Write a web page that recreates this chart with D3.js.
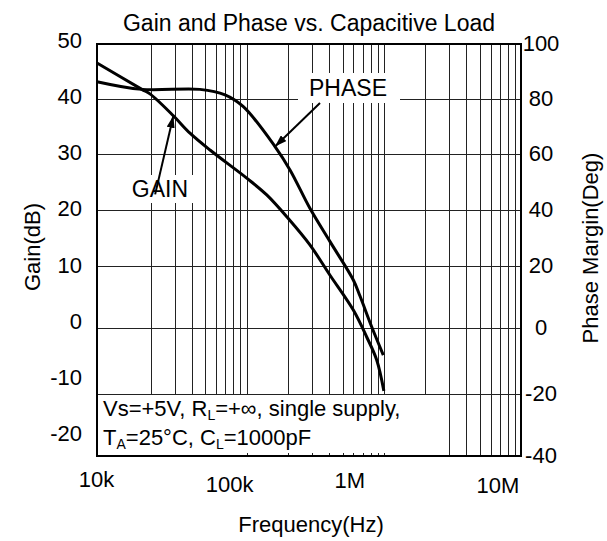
<!DOCTYPE html>
<html>
<head>
<meta charset="utf-8">
<script src="https://cdn.jsdelivr.net/npm/d3@7"></script>
<style>
    body { margin: 0; background: #fff; }
    text { font-family: "Liberation Sans", Arial, sans-serif; fill: #000; }
</style>
</head>
<body>
<script>
// gain curve (left axis, dB)
var gainFreq = [8.1e3, 17.2e3, 19.7e3, 29.2e3, 38.6e3, 54.0e3, 100e3, 140e3, 201e3, 289e3, 405e3, 599e3, 750e3, 887e3, 1.0e6];
var gainDb = [45.9, 41.2, 40.4, 36.5, 33.4, 30.4, 25.4, 22.4, 18.2, 13.5, 8.1, 1.9, -2.9, -7.0, -12.5];

// phase margin curve (right axis, deg)
var phaseFreq = [8.1e3, 17.2e3, 45.6e3, 69.5e3, 94.5e3, 160.9e3, 206.9e3, 289e3, 405e3, 599e3, 670e3, 815e3, 991e3];
var phaseDeg = [86.3, 83.5, 83.5, 81.5, 77.2, 62.7, 54.3, 40.6, 28.7, 15.5, 10.3, 0.4, -8.2];

var gainTicks = [50, 40, 30, 20, 10, 0, -10, -20];
var phaseTicks = [100, 80, 60, 40, 20, 0, -20, -40];
var freqTicks = [1e4, 1e5, 1e6, 1e7];
var freqTickLabels = ["10k", "100k", "1M", "10M"];

var plotLeft = 97, plotRight = 521, plotTop = 44, plotBottom = 456;

var svg = d3.select("body").append("svg")
    .attr("width", 607)
    .attr("height", 541);

var x = d3.scaleLog().domain([8.1e3, 1e7]).range([plotLeft, plotRight]);
var yGain = d3.scaleLinear().domain([-20, 50]).range([433, 40]);
// the printed grid is not evenly spaced, so phase is piecewise
var yPhase = d3.scaleLinear().domain(phaseTicks).range([44, 99, 154, 210, 266, 328, 394, 456]);

function px(v) { return Math.round(v) + 0.5; }

// grid
var gridX = x.ticks().filter(function (f) { return f >= 2e4 && f < 9.9e6; });
var grid = svg.append("g").attr("stroke", "#222").attr("stroke-width", 1);
grid.selectAll("line.v")
    .data(gridX)
    .enter().append("line")
    .attr("class", "v")
    .attr("x1", function (d) { return px(x(d)); })
    .attr("x2", function (d) { return px(x(d)); })
    .attr("y1", plotTop)
    .attr("y2", plotBottom);

// white boxes behind the labels
svg.append("rect").attr("x", plotLeft + 1).attr("y", yPhase(-20) + 1)
    .attr("width", 433 - plotLeft).attr("height", plotBottom - yPhase(-20) - 1).attr("fill", "#fff");
svg.append("rect").attr("x", 128).attr("y", 175).attr("width", 77).attr("height", 28).attr("fill", "#fff");

var hGrid = svg.append("g").attr("stroke", "#222").attr("stroke-width", 1);
hGrid.selectAll("line")
    .data(phaseTicks.slice(1, -1))
    .enter().append("line")
    .attr("x1", plotLeft)
    .attr("x2", plotRight)
    .attr("y1", function (d) { return px(yPhase(d)); })
    .attr("y2", function (d) { return px(yPhase(d)); });

svg.append("rect").attr("x", 298).attr("y", 73).attr("width", 102).attr("height", 30).attr("fill", "#fff");

// little stubs left along the bottom inside the condition box
hGrid.selectAll("line.stub")
    .data(gridX.filter(function (f) { return f >= 1e5 && f <= 1e6; }))
    .enter().append("line")
    .attr("class", "stub")
    .attr("x1", function (d) { return px(x(d)); })
    .attr("x2", function (d) { return px(x(d)); })
    .attr("y1", plotBottom - 3)
    .attr("y2", plotBottom);

// curves
var gainLine = d3.line()
    .x(function (d, i) { return x(gainFreq[i]); })
    .y(function (d) { return yGain(d); })
    .curve(d3.curveCatmullRom.alpha(0.5));
var phaseLine = d3.line()
    .x(function (d, i) { return x(phaseFreq[i]); })
    .y(function (d) { return yPhase(d); })
    .curve(d3.curveCatmullRom.alpha(0.5));

svg.append("path").attr("d", gainLine(gainDb))
    .attr("fill", "none").attr("stroke", "#000").attr("stroke-width", 3);
svg.append("path").attr("d", phaseLine(phaseDeg))
    .attr("fill", "none").attr("stroke", "#000").attr("stroke-width", 3);

// frame
svg.append("rect")
    .attr("x", plotLeft).attr("y", plotTop)
    .attr("width", plotRight - plotLeft).attr("height", plotBottom - plotTop)
    .attr("fill", "none").attr("stroke", "#000").attr("stroke-width", 2);

// tick labels
svg.append("g").selectAll("text")
    .data(gainTicks)
    .enter().append("text")
    .attr("x", 82)
    .attr("y", function (d) { return yGain(d) + 8; })
    .attr("text-anchor", "end")
    .attr("font-size", 22)
    .text(function (d) { return d; });

svg.append("g").selectAll("text")
    .data(phaseTicks)
    .enter().append("text")
    .attr("x", 541)
    .attr("y", function (d) { return yPhase(d) + 7; })
    .attr("text-anchor", "middle")
    .attr("font-size", 22)
    .text(function (d) { return d; });

var freqDx = [-13, -17, -34, -23];
var freqY = [487, 492, 488, 493];
svg.append("g").selectAll("text")
    .data(freqTicks)
    .enter().append("text")
    .attr("x", function (d, i) { return x(d) + freqDx[i]; })
    .attr("y", function (d, i) { return freqY[i]; })
    .attr("text-anchor", "middle")
    .attr("font-size", 22)
    .text(function (d, i) { return freqTickLabels[i]; });

// titles
svg.append("text").attr("x", 309).attr("y", 31).attr("text-anchor", "middle")
    .attr("font-size", 23).text("Gain and Phase vs. Capacitive Load");
svg.append("text").attr("x", 311).attr("y", 532).attr("text-anchor", "middle")
    .attr("font-size", 22).text("Frequency(Hz)");
svg.append("text").attr("transform", "translate(40,247) rotate(-90)").attr("text-anchor", "middle")
    .attr("font-size", 22).text("Gain(dB)");
svg.append("text").attr("transform", "translate(598,248) rotate(-90)").attr("text-anchor", "middle")
    .attr("font-size", 22).text("Phase Margin(Deg)");

// annotations
svg.append("defs").append("marker")
    .attr("id", "head")
    .attr("viewBox", "0 0 12 8")
    .attr("refX", 12).attr("refY", 4)
    .attr("markerWidth", 12).attr("markerHeight", 8)
    .attr("markerUnits", "userSpaceOnUse")
    .attr("orient", "auto")
    .append("path").attr("d", "M0,0L12,4L0,8Z").attr("fill", "#000");

svg.append("line")
    .attr("x1", x(21.5e3)).attr("y1", yGain(22.5))
    .attr("x2", x(gainFreq[3])).attr("y2", yGain(gainDb[3]))
    .attr("stroke", "#000").attr("stroke-width", 2).attr("marker-end", "url(#head)");
svg.append("text").attr("x", x(23.3e3)).attr("y", 197).attr("text-anchor", "middle")
    .attr("font-size", 23).text("GAIN");

svg.append("line")
    .attr("x1", 320).attr("y1", 103)
    .attr("x2", x(phaseFreq[5])).attr("y2", yPhase(phaseDeg[5]))
    .attr("stroke", "#000").attr("stroke-width", 2).attr("marker-end", "url(#head)");
svg.append("text").attr("x", 348).attr("y", 96).attr("text-anchor", "middle")
    .attr("font-size", 23).text("PHASE");

// test conditions
var cond = svg.append("g").attr("font-size", 22);
var l1 = cond.append("text").attr("x", 103).attr("y", 416);
l1.append("tspan").text("Vs=+5V, R");
l1.append("tspan").attr("font-size", 14).attr("dy", 4).text("L");
l1.append("tspan").attr("dy", -4).text("=+\u221e, single supply,");
var l2 = cond.append("text").attr("x", 103).attr("y", 445);
l2.append("tspan").text("T");
l2.append("tspan").attr("font-size", 14).attr("dy", 4).text("A");
l2.append("tspan").attr("dy", -4).text("=25\u00b0C, C");
l2.append("tspan").attr("font-size", 14).attr("dy", 4).text("L");
l2.append("tspan").attr("dy", -4).text("=1000pF");
</script>
</body>
</html>
